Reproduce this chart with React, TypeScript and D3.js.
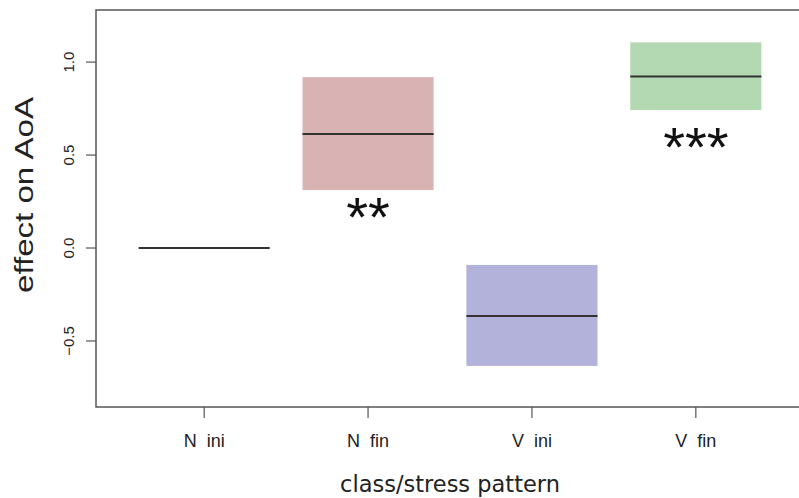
import * as d3 from 'd3'

const CATEGORIES = ['N  ini', 'N  fin', 'V  ini', 'V  fin']
const EST = [0, 0.613, -0.366, 0.923]
const LOWER = [0, 0.312, -0.634, 0.742]
const UPPER = [0, 0.919, -0.091, 1.106]
const SIG = ['', '**', '', '***']
// value at the vertical centre of the significance stars
const SIG_Y = [0, 0.22, 0, 0.6]
const FILLS = ['none', '#d9b3b3', '#b2b2da', '#b3d9b3']
const Y_TICKS = [-0.5, 0, 0.5, 1.0]

const W = 799
const H = 498
const left = 96
const right = 804
const top = 10
const bottom = 407

export default function App() {
  const x = d3.scaleLinear().domain([0.34, 4.66]).range([left, right])
  const y = d3.scaleLinear().domain([-0.855, 1.28]).range([bottom, top])
  const halfW = 0.4
  const starSize = 56

  return (
    <svg width={W} height={H} style={{ position: 'absolute', left: 0, top: 0, background: '#fff' }}>
      {/* boxes */}
      {CATEGORIES.map((c, i) => {
        const cx = x(i + 1)
        const x0 = x(i + 1 - halfW)
        const x1 = x(i + 1 + halfW)
        return (
          <g key={c}>
            {FILLS[i] !== 'none' && (
              <rect x={x0} y={y(UPPER[i])} width={x1 - x0} height={y(LOWER[i]) - y(UPPER[i])} fill={FILLS[i]} />
            )}
            <line x1={x0} x2={x1} y1={y(EST[i])} y2={y(EST[i])} stroke="#333" strokeWidth={2} />
            {SIG[i] && (
              <text
                x={cx}
                y={y(SIG_Y[i]) + starSize * 0.52}
                textAnchor="middle"
                fontFamily="Liberation Sans"
                fontSize={starSize}
                fill="#111"
              >
                {SIG[i]}
              </text>
            )}
          </g>
        )
      })}

      {/* frame */}
      <rect x={left} y={top} width={right - left} height={bottom - top} fill="none" stroke="#555" strokeWidth={1.5} />

      {/* y axis */}
      {Y_TICKS.map(t => (
        <g key={t}>
          <line x1={left - 10} x2={left} y1={y(t)} y2={y(t)} stroke="#555" strokeWidth={1.2} />
          <text
            transform={`translate(74,${y(t)}) rotate(-90)`}
            textAnchor="middle"
            fontFamily="Liberation Sans"
            fontSize={15}
            fill="#222"
          >
            {d3.format('.1f')(t)}
          </text>
        </g>
      ))}
      <text
        transform="translate(33,195) rotate(-90)"
        textAnchor="middle"
        fontFamily="Liberation Sans"
        fontSize={26}
        textLength={196}
        lengthAdjust="spacingAndGlyphs"
        fill="#222"
      >
        effect on AoA
      </text>

      {/* x axis */}
      {CATEGORIES.map((c, i) => (
        <g key={c}>
          <line x1={x(i + 1)} x2={x(i + 1)} y1={bottom} y2={bottom + 11} stroke="#555" strokeWidth={1.2} />
          <text
            x={x(i + 1)}
            y={447}
            textAnchor="middle"
            fontFamily="Liberation Sans"
            fontSize={18}
            fill="#222"
            style={{ whiteSpace: 'pre' }}
          >
            {c}
          </text>
        </g>
      ))}
      <text x={(left + right) / 2} y={492} textAnchor="middle" fontFamily="DejaVu Sans" fontSize={22.5} fill="#222">
        class/stress pattern
      </text>
    </svg>
  )
}
